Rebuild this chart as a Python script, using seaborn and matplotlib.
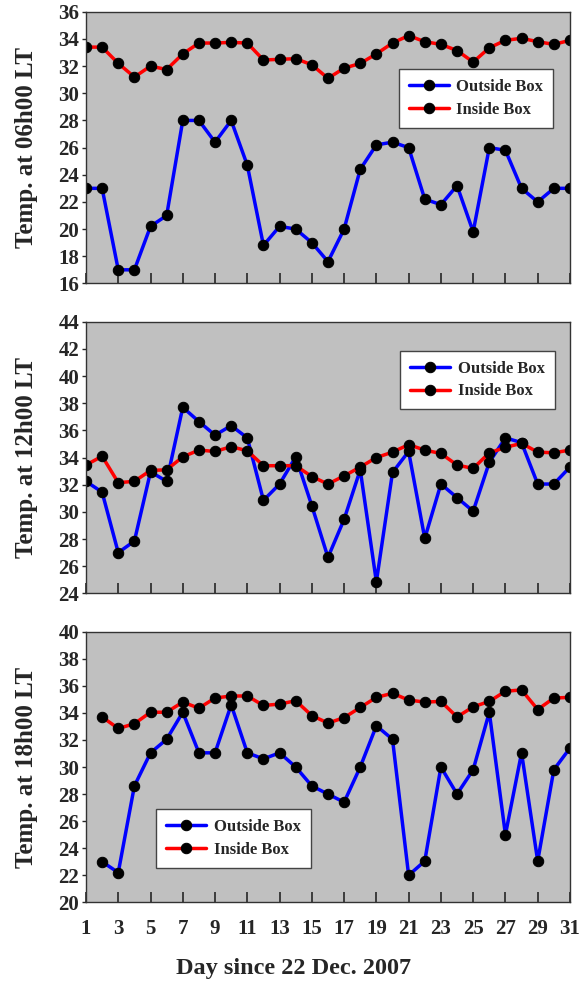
import numpy as np
import pandas as pd
import matplotlib
matplotlib.use('Agg')
import matplotlib.pyplot as plt
import seaborn as sns

# Daily temperatures (deg C), day 1..31 since 22 Dec 2007
days = list(range(1, 32))

out_06 = [23.0, 23.0, 17.0, 17.0, 20.2, 21.0, 28.0, 28.0, 26.4, 28.0, 24.7, 18.8, 20.2, 20.0, 19.0,
          17.6, 20.0, 24.4, 26.2, 26.4, 26.0, 22.2, 21.8, 23.2, 19.8, 26.0, 25.8, 23.0, 22.0, 23.0, 23.0]
in_06 = [33.4, 33.4, 32.2, 31.2, 32.0, 31.75, 32.9, 33.7, 33.7, 33.75, 33.7, 32.45, 32.5, 32.55, 32.1,
         31.1, 31.85, 32.2, 32.9, 33.7, 34.25, 33.8, 33.6, 33.15, 32.3, 33.35, 33.9, 34.05, 33.8, 33.6, 33.9]

out_12 = [32.25, 31.45, 27.0, 27.85, 32.95, 32.25, 37.7, 36.65, 35.65, 36.35, 35.45, 30.85, 32.05, 34.05, 30.45,
          26.65, 29.45, 33.1, 24.85, 32.9, 34.45, 28.05, 32.05, 31.05, 30.05, 33.65, 35.45, 35.1, 32.05, 32.05, 33.3]
in_12 = [33.45, 34.1, 32.15, 32.25, 33.05, 33.1, 34.05, 34.55, 34.45, 34.8, 34.5, 33.4, 33.4, 33.4, 32.6,
         32.05, 32.65, 33.3, 34.0, 34.4, 34.95, 34.55, 34.3, 33.45, 33.2, 34.35, 34.75, 35.05, 34.4, 34.35, 34.55]

out_18 = [np.nan, 23.0, 22.2, 28.6, 31.05, 32.05, 34.05, 31.05, 31.05, 34.6, 31.05, 30.6, 31.05, 30.0, 28.6,
          28.0, 27.4, 30.0, 33.05, 32.05, 22.0, 23.05, 30.0, 28.0, 29.8, 34.05, 25.0, 31.05, 23.05, 29.8, 31.4]
in_18 = [np.nan, 33.7, 32.85, 33.2, 34.05, 34.05, 34.8, 34.35, 35.1, 35.25, 35.25, 34.55, 34.65, 34.9, 33.8,
         33.25, 33.65, 34.4, 35.15, 35.45, 34.95, 34.8, 34.85, 33.7, 34.45, 34.85, 35.6, 35.7, 34.25, 35.1, 35.15]

ylabels = ['Temp. at 06h00 LT', 'Temp. at 12h00 LT', 'Temp. at 18h00 LT']
ylims = [(16, 36), (24, 44), (20, 40)]
xticks = list(range(1, 32, 2))

sns.set_style('ticks')
plt.rcParams['font.family'] = ['Liberation Serif', 'DejaVu Serif']
plt.rcParams['font.weight'] = 'bold'

fig = plt.figure(figsize=(5.81, 9.84), dpi=100)
boxes = [(0.712, 0.988), (0.397, 0.673), (0.083, 0.358)]
legend_pos = [('upper right', (0.965, 0.79)), ('upper right', (0.969, 0.893)), ('upper left', (0.145, 0.344))]
series = [(out_06, in_06), (out_12, in_12), (out_18, in_18)]

for i, ((b, t), (o, n)) in enumerate(zip(boxes, series)):
    ax = fig.add_axes([0.148, b, 0.833, t - b])
    ax.set_facecolor('#c0c0c0')
    df = pd.DataFrame({'day': days, 'Outside Box': o, 'Inside Box': n})
    for col, c in [('Outside Box', 'blue'), ('Inside Box', 'red')]:
        sns.lineplot(data=df, x='day', y=col, color=c, lw=2.5, marker='o', markersize=7.5,
                     markerfacecolor='black', markeredgecolor='black', label=col, ax=ax)
    ax.set_xlim(1, 31)
    ax.set_ylim(*ylims[i])
    ax.set_yticks(np.arange(ylims[i][0], ylims[i][1] + 1, 2))
    ax.set_xticks(xticks)
    ax.tick_params(axis='x', direction='in', length=7, width=1.2, labelsize=15, pad=12)
    ax.tick_params(axis='y', direction='out', length=3, width=1, labelsize=15, pad=2)
    if i < 2:
        ax.set_xticklabels([])
    ax.set_xlabel('')
    ax.set_ylabel(ylabels[i], fontsize=18, fontweight='bold')
    ax.yaxis.set_label_coords(-0.10, 0.5)
    for s in ax.spines.values():
        s.set_color('#333333')
        s.set_linewidth(1.0)
    loc, anchor = legend_pos[i]
    leg = ax.legend(loc=loc, bbox_to_anchor=anchor, frameon=True, fancybox=False,
                    edgecolor='#444444', facecolor='white', framealpha=1,
                    prop={'size': 12, 'weight': 'bold'}, handlelength=2.4,
                    handletextpad=0.45, borderpad=0.6, labelspacing=0.4, borderaxespad=0)
    leg.get_frame().set_linewidth(1.0)

fig.text(0.506, 0.016, 'Day since 22 Dec. 2007', ha='center', va='center',
         fontsize=17.5, fontweight='bold')

fig.savefig('out.png', dpi=100)
